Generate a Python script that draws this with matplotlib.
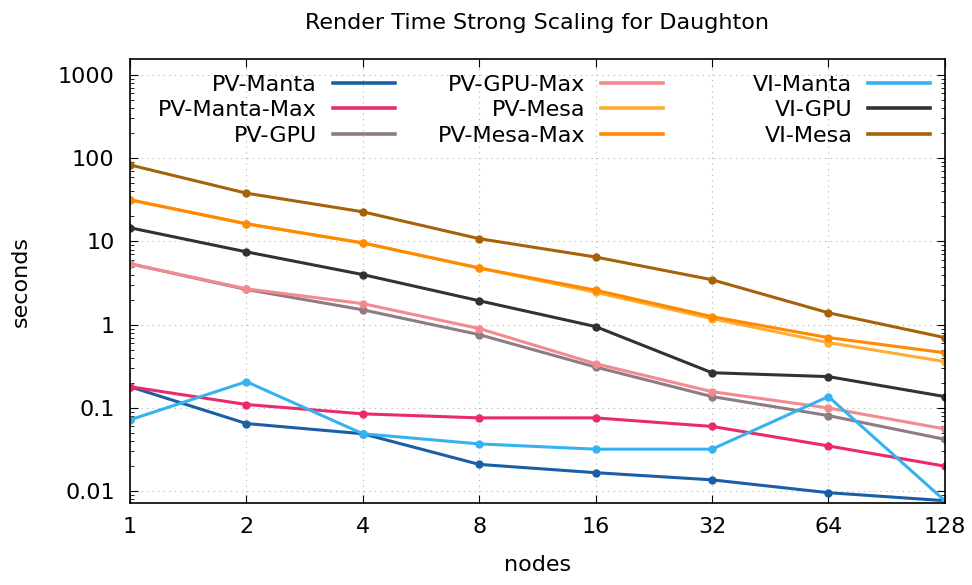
import numpy as np
import matplotlib
matplotlib.use('Agg')
import matplotlib.pyplot as plt
from matplotlib.lines import Line2D
from matplotlib.ticker import FixedLocator, FixedFormatter, LogLocator, NullFormatter

nodes = [1, 2, 4, 8, 16, 32, 64, 128]

pv_manta     = [0.18, 0.065, 0.049, 0.021, 0.0167, 0.0137, 0.0096, 0.0077]
pv_manta_max = [0.18, 0.11, 0.085, 0.076, 0.076, 0.060, 0.035, 0.020]
pv_gpu       = [5.4, 2.65, 1.51, 0.76, 0.31, 0.137, 0.081, 0.042]
pv_gpu_max   = [5.4, 2.7, 1.79, 0.90, 0.34, 0.157, 0.100, 0.056]
pv_mesa      = [31.6, 16.3, 9.6, 4.8, 2.45, 1.18, 0.61, 0.36]
pv_mesa_max  = [31.6, 16.3, 9.6, 4.8, 2.6, 1.25, 0.70, 0.46]
vi_manta     = [0.072, 0.207, 0.049, 0.037, 0.032, 0.032, 0.137, 0.0077]
vi_gpu       = [14.6, 7.5, 4.0, 1.94, 0.95, 0.265, 0.238, 0.137]
vi_mesa      = [83, 38, 22.7, 10.8, 6.5, 3.47, 1.39, 0.70]

series = [
    ('PV-Manta', pv_manta, '#1a5fa6'),
    ('PV-Manta-Max', pv_manta_max, '#ea2a6c'),
    ('PV-GPU', pv_gpu, '#8e7c82'),
    ('PV-GPU-Max', pv_gpu_max, '#f28a8e'),
    ('PV-Mesa', pv_mesa, '#ffad33'),
    ('PV-Mesa-Max', pv_mesa_max, '#ff8a00'),
    ('VI-Manta', vi_manta, '#35b3f0'),
    ('VI-GPU', vi_gpu, '#2e3436'),
    ('VI-Mesa', vi_mesa, '#a6620a'),
]

fs = 16
fig = plt.figure(figsize=(9.72, 5.85), dpi=100)
ax = fig.add_axes([0.1337, 0.140, 0.972 - 0.1337, 0.899 - 0.140])

for name, vals, col in series:
    ax.plot(nodes, vals, color=col, lw=2.2, marker='o', markersize=5, label=name)

ax.set_xscale('log', base=2)
ax.set_yscale('log')
ax.set_xlim(1, 128)
ax.set_ylim(0.0072, 1550)

ax.xaxis.set_major_locator(FixedLocator(nodes))
ax.xaxis.set_major_formatter(FixedFormatter([str(n) for n in nodes]))
ax.xaxis.set_minor_locator(FixedLocator([]))
yt = [0.01, 0.1, 1, 10, 100, 1000]
ax.yaxis.set_major_locator(FixedLocator(yt))
ax.yaxis.set_major_formatter(FixedFormatter(['0.01', '0.1', '1', '10', '100', '1000']))
ax.yaxis.set_minor_locator(LogLocator(base=10, subs=np.arange(2, 10), numticks=20))
ax.yaxis.set_minor_formatter(NullFormatter())

ax.tick_params(which='both', direction='in', top=True, right=True, labelsize=fs)
ax.tick_params(which='major', length=6, width=0.8)
ax.tick_params(which='minor', length=3, width=0.6)
ax.tick_params(axis='x', pad=10)
ax.tick_params(axis='y', pad=11)
ax.grid(True, which='major', linestyle=(0, (1, 4)), color='#b0b0b0', lw=0.8)
for s in ax.spines.values():
    s.set_linewidth(1.2)

ax.set_title('Render Time Strong Scaling for Daughton', fontsize=fs, pad=22)
ax.set_xlabel('nodes', fontsize=fs)
ax.set_ylabel('seconds', fontsize=fs)
ax.xaxis.set_label_coords(0.5, -0.118)
ax.yaxis.set_label_coords(-0.122, 0.5)

# gnuplot-style key: three equal-width columns, text right-aligned before the sample
col_right = [0.325, 0.654, 0.982]
for c in range(3):
    part = series[c * 3:(c + 1) * 3]
    handles = [Line2D([], [], color=col, lw=2.6) for _, _, col in part]
    labels = [name for name, _, _ in part]
    leg = ax.legend(handles, labels, markerfirst=False, frameon=False, fontsize=fs,
                    loc='upper right', bbox_to_anchor=(col_right[c], 0.965),
                    borderpad=0, borderaxespad=0, handlelength=2.8,
                    handletextpad=0.7, labelspacing=0.25)
    if c < 2:
        ax.add_artist(leg)

plt.savefig('out.png', dpi=100)
